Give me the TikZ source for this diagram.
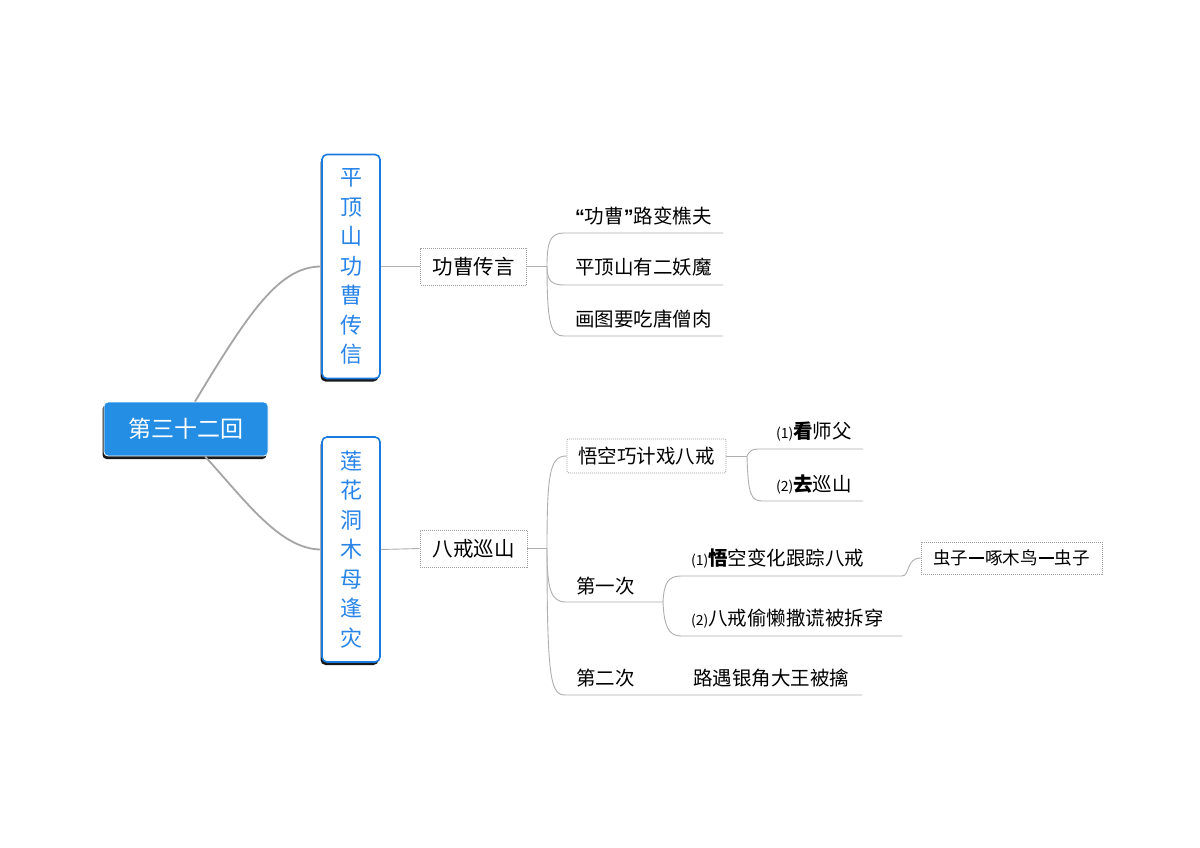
\documentclass[tikz,border=0pt]{standalone}
\usepackage{fontspec}
\newfontfamily\cjk{Noto Sans CJK SC}
\newfontfamily\quotefont{Liberation Sans}
\usetikzlibrary{shadows}
\definecolor{rootblue}{RGB}{36,142,228}
\definecolor{edgeblue}{RGB}{26,122,224}
\definecolor{txtblue}{RGB}{40,132,232}
\definecolor{linegray}{RGB}{165,165,165}
\definecolor{thingray}{RGB}{175,175,175}
\tikzset{
  mainconn/.style={draw=linegray, line width=1.8pt},
  conn/.style={draw=thingray, line width=0.9pt},
  rootbox/.style={rectangle, rounded corners=4pt, fill=rootblue, draw=white, line width=0.8pt,
    minimum width=164pt, minimum height=54pt, text=white, inner sep=0pt,
    font=\cjk\fontsize{23}{23}\selectfont,
    drop shadow={shadow xshift=-1.5pt, shadow yshift=-3pt, fill=black, opacity=0.9}},
  vbox/.style={rectangle, rounded corners=5pt, draw=edgeblue, line width=1.6pt, fill=white,
    minimum width=58pt, minimum height=224pt, text=txtblue, align=center, inner sep=0pt,
    font=\cjk\fontsize{22}{29.5}\selectfont,
    drop shadow={shadow xshift=-1.5pt, shadow yshift=-3pt, fill=black, opacity=0.9}},
  tbox/.style={rectangle, draw=gray!75, line width=0.8pt, dash pattern=on 1pt off 1pt,
    fill=white, inner sep=0pt, minimum height=37pt, font=\cjk\fontsize{20.5}{20.5}\selectfont},
  leaf/.style={inner sep=0pt, anchor=west, font=\cjk\fontsize{19.5}{19.5}\selectfont}
}
\newcommand{\numsm}[1]{{\fontsize{14}{14}\selectfont(#1)}}
\newcommand{\lqmark}{{\quotefont\bfseries “}}
\newcommand{\rqmark}{{\quotefont\bfseries ”}}
\newcommand{\dashbar}{\kern1pt\rule[5.5pt]{15pt}{2.2pt}\kern1pt}
\begin{document}
\begin{tikzpicture}[x=1pt,y=-1pt]
\useasboundingbox (0,0) rectangle (1200,847);
\fill[white] (0,0) rectangle (1200,847);

% ---------- main nodes ----------
\node[rootbox] (root) at (186,429) {第三十二回};
\node[vbox] (A) at (351,266.5) {平\\顶\\山\\功\\曹\\传\\信};
\node[vbox, minimum height=225pt] (B) at (351,549.5) {莲\\花\\洞\\木\\母\\逢\\灾};

\draw[mainconn] ([xshift=9pt]root.north) .. controls (250,310) and (280,266.5) .. (A.west);
\draw[mainconn] ([xshift=19pt]root.south) .. controls (245,500) and (280,549.5) .. (B.west);

% ---------- upper branch ----------
\node[tbox, minimum width=106pt] (a1) at (473.5,266.5) {功曹传言};
\draw[conn] (A.east) -- (a1.west);
\coordinate (J1) at (547,266.5);
\draw[conn] (a1.east) -- (J1);

\node[leaf] (l1) at (575,216) {\lqmark 功曹\rqmark 路变樵夫};
\node[leaf] (l2) at (575,267) {平顶山有二妖魔};
\node[leaf] (l3) at (575,319) {画图要吃唐僧肉};
\coordinate (l1s) at (564,233); \coordinate (l1e) at (723,233);
\coordinate (l2s) at (564,285); \coordinate (l2e) at (723,285);
\coordinate (l3s) at (564,336); \coordinate (l3e) at (723,336);
\draw[conn] (J1) .. controls (547,242) and (550,233) .. (l1s) -- (l1e);
\draw[conn] (J1) .. controls (547,280) and (551,285) .. (l2s) -- (l2e);
\draw[conn] (J1) .. controls (547,325) and (551,336) .. (l3s) -- (l3e);

% ---------- lower branch ----------
\node[tbox, minimum width=107pt] (b1) at (473.5,548.5) {八戒巡山};
\draw[conn] (B.east) -- (b1.west);
\coordinate (J2) at (547,548.5);
\draw[conn] (b1.east) -- (J2);

% 悟空巧计戏八戒
\node[tbox, minimum width=159pt, minimum height=34pt, rounded corners=2pt,
  font=\cjk\fontsize{19.5}{19.5}\selectfont] (c1) at (646.5,456) {悟空巧计戏八戒};
\draw[conn] (J2) .. controls (547,472) and (550,456) .. (c1.west);
\coordinate (J4) at (747,456);
\draw[conn] (c1.east) -- (J4);
\node[leaf] (k1) at (776,432) {\numsm{1}\textbf{看}师父};
\node[leaf] (k2) at (776,485) {\numsm{2}\textbf{去}巡山};
\coordinate (k1s) at (758,449); \coordinate (k1e) at (863,449);
\coordinate (k2s) at (762,501); \coordinate (k2e) at (863,501);
\draw[conn] (J4) .. controls (749,452) and (751,449) .. (k1s) -- (k1e);
\draw[conn] (J4) .. controls (748,494) and (751,501) .. (k2s) -- (k2e);

% 第一次
\node[leaf] (d1) at (576,586) {第一次};
\coordinate (d1s) at (566,602); \coordinate (J3) at (663,602);
\draw[conn] (J2) .. controls (547,590) and (551,602) .. (d1s) -- (J3);
\node[leaf] (e1) at (691,559) {\numsm{1}\textbf{悟}空变化跟踪八戒};
\node[leaf] (e2) at (691,619) {\numsm{2}八戒偷懒撒谎被拆穿};
\coordinate (e1s) at (681,576); \coordinate (e1e) at (902,576);
\coordinate (e2s) at (681,636); \coordinate (e2e) at (902,636);
\draw[conn] (J3) .. controls (664,583) and (668,576) .. (e1s) -- (e1e);
\draw[conn] (J3) .. controls (664,625) and (668,636) .. (e2s) -- (e2e);

\node[tbox, minimum width=181pt, minimum height=32pt,
  font=\cjk\fontsize{17.5}{17.5}\selectfont] (z) at (1011.5,558) {虫子\dashbar 啄木鸟\dashbar 虫子};
\draw[conn] (e1e) .. controls (910,576) and (906,558) .. (z.west);

% 第二次
\node[leaf] (d2) at (576,678) {第二次};
\node[leaf] (f1) at (693,678) {路遇银角大王被擒};
\coordinate (d2s) at (566,695); \coordinate (d2e) at (690,695); \coordinate (f1e) at (862,695);
\draw[conn] (J2) .. controls (547,684) and (551,695) .. (d2s) -- (d2e) -- (f1e);
\end{tikzpicture}
\end{document}
